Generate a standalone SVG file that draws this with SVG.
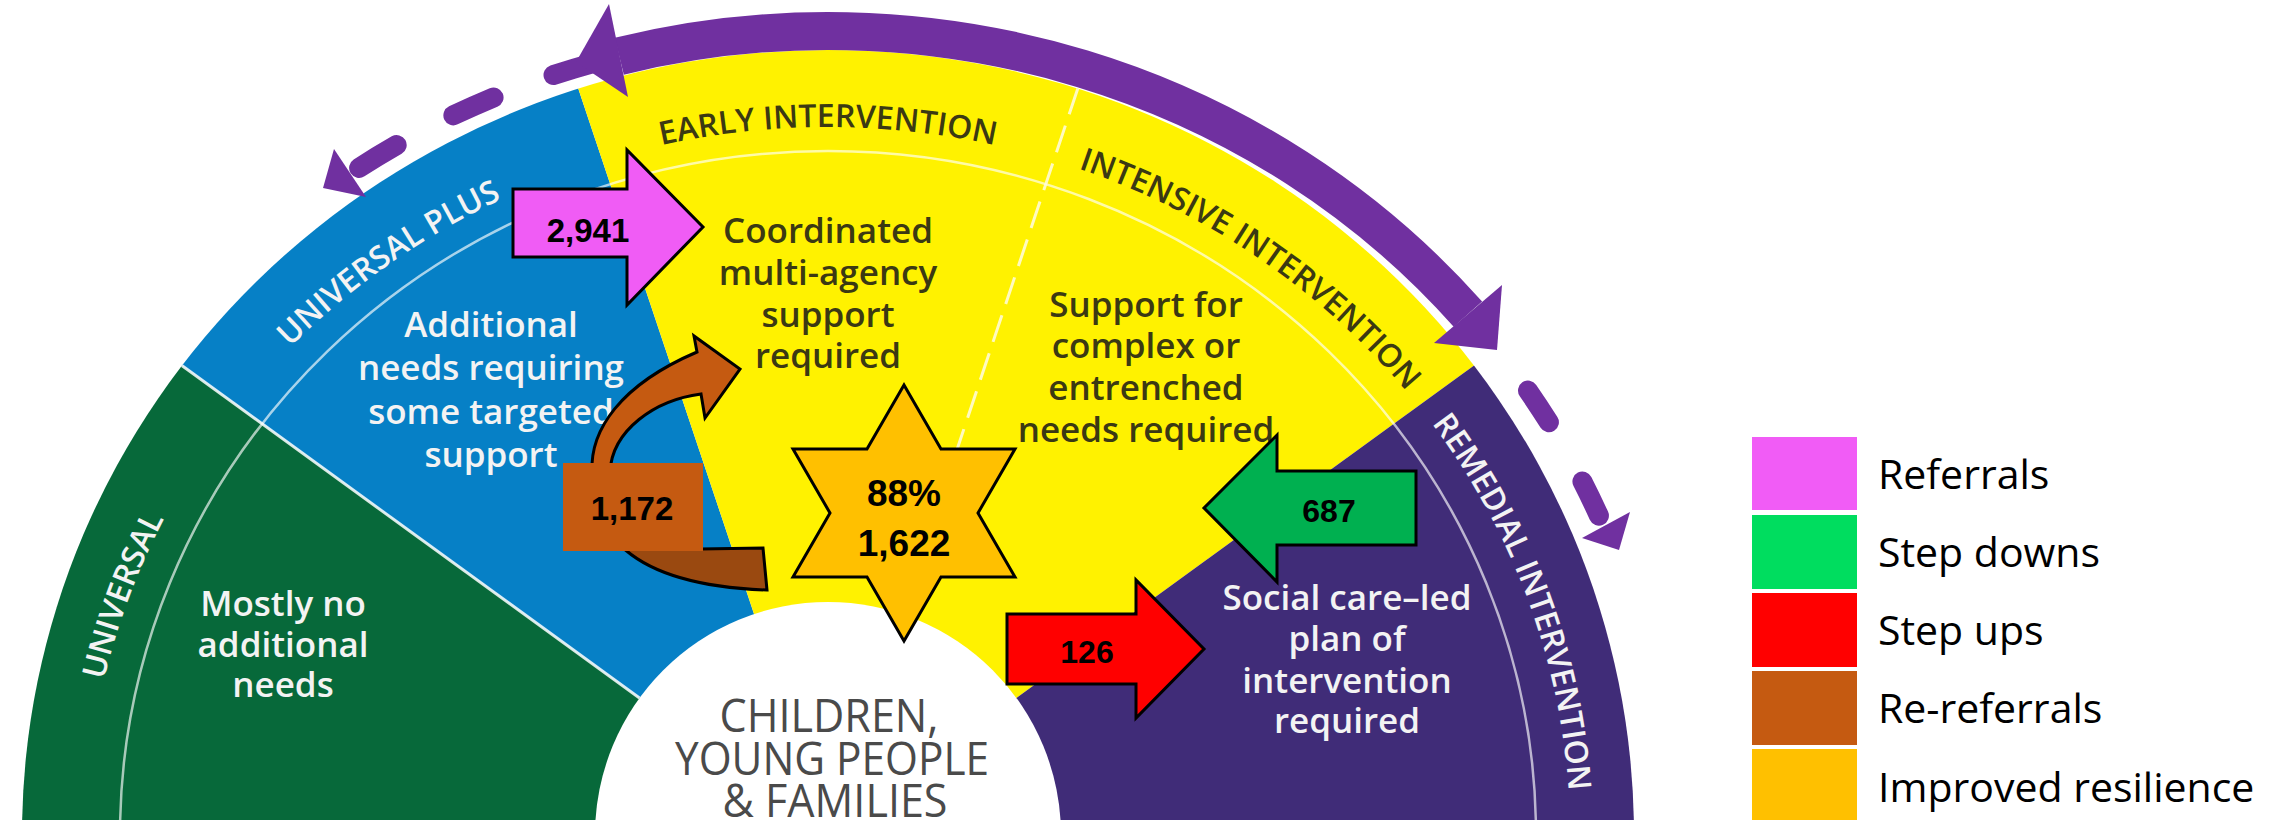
<svg xmlns="http://www.w3.org/2000/svg" width="2295" height="820" viewBox="0 0 2295 820">
<style>
.band{font-family:"Open Sans","Liberation Sans",sans-serif;font-weight:600;font-size:32px;text-anchor:middle}
.light{fill:#f3f3f3}
.dark{fill:#3b3913}
.body{font-family:"Open Sans","Liberation Sans",sans-serif;font-weight:600;font-size:35px;text-anchor:middle}
.centre{font-family:"Open Sans","Liberation Sans",sans-serif;font-size:46px;fill:#4a4a4a;text-anchor:middle}
.num{font-family:"Liberation Sans",Arial,sans-serif;font-weight:700;text-anchor:middle;fill:#000}
.edge{stroke:#000;stroke-width:3;stroke-linejoin:miter}
.legend{font-family:"Open Sans","Liberation Sans",sans-serif;font-size:41px;fill:#000}
.arc{fill:none;stroke:#7030a0}
.dash{fill:none;stroke:#7030a0;stroke-width:20;stroke-linecap:round}
.head{fill:#7030a0}
</style>
<defs>
  <clipPath id="disc"><ellipse cx="828" cy="835" rx="806" ry="785"/></clipPath>
  <!-- baselines for the curved band titles -->
  <path id="lbl-universal" d="M 88.9 772.9 A 742 708 0 0 1 213.1 438.7"/>
  <path id="lbl-plus" d="M 226.7 420.2 A 742 708 0 0 1 591.7 163.9"/>
  <path id="lbl-early" d="M 584.6 166.2 A 742 708 0 0 1 1071.4 166.2"/>
  <path id="lbl-intensive" d="M 1041.8 157 A 742 708 0 0 1 1430.1 421.2"/>
  <path id="lbl-remedial" d="M 1419.5 407.5 A 742 708 0 0 1 1569.6 811"/>
</defs>

<!-- half-disc of need levels -->
<g id="segments" clip-path="url(#disc)">
  <polygon id="seg-universal" points="828,835 -172,835 19,247" fill="#07693a"/>
  <polygon id="seg-universal-plus" points="828,835 19,247 510.7,-113.3" fill="#0680c6"/>
  <polygon id="seg-intervention" points="828,835 510.7,-113.3 1145.3,-113.3 1637,247" fill="#fff200"/>
  <polygon id="seg-remedial" points="828,835 1637,247 1828,835" fill="#402c78"/>
  <ellipse cx="828" cy="835" rx="708" ry="684" fill="none" stroke="#fff" stroke-opacity="0.65" stroke-width="2.5"/>
  <line x1="639.5" y1="698" x2="164.6" y2="353" stroke="#fff" stroke-opacity="0.85" stroke-width="3"/>
  <line x1="904.2" y1="607.4" x2="1088.2" y2="57.4" stroke="#fffbe0" stroke-opacity="0.85" stroke-width="3" stroke-dasharray="28 12"/>
</g>
<circle id="hub" cx="828" cy="835" r="233" fill="#fff"/>

<!-- band titles -->
<g id="titles">
  <text class="band light"><textPath href="#lbl-universal" startOffset="50%">UNIVERSAL</textPath></text>
  <text class="band light"><textPath href="#lbl-plus" startOffset="50%">UNIVERSAL PLUS</textPath></text>
  <text class="band dark"><textPath href="#lbl-early" startOffset="50%">EARLY INTERVENTION</textPath></text>
  <text class="band dark"><textPath href="#lbl-intensive" startOffset="50%">INTENSIVE INTERVENTION</textPath></text>
  <text class="band light"><textPath href="#lbl-remedial" startOffset="50%">REMEDIAL INTERVENTION</textPath></text>
</g>

<!-- descriptions -->
<g id="node-universal">
  <text class="body light"><tspan x="283" y="616">Mostly no</tspan><tspan x="283" y="657">additional</tspan><tspan x="283" y="697">needs</tspan></text>
</g>
<g id="node-universal-plus">
  <text class="body light"><tspan x="491" y="337">Additional</tspan><tspan x="491" y="380">needs requiring</tspan><tspan x="491" y="424">some targeted</tspan><tspan x="491" y="467">support</tspan></text>
</g>
<g id="node-early">
  <text class="body dark"><tspan x="828" y="243">Coordinated</tspan><tspan x="828" y="285">multi-agency</tspan><tspan x="828" y="327">support</tspan><tspan x="828" y="368">required</tspan></text>
</g>
<g id="node-intensive">
  <text class="body dark"><tspan x="1146" y="317">Support for</tspan><tspan x="1146" y="358">complex or</tspan><tspan x="1146" y="400">entrenched</tspan><tspan x="1146" y="442">needs required</tspan></text>
</g>
<g id="node-remedial">
  <text class="body light"><tspan x="1347" y="610">Social care–led</tspan><tspan x="1347" y="651">plan of</tspan><tspan x="1347" y="693">intervention</tspan><tspan x="1347" y="733">required</tspan></text>
</g>
<g id="node-centre">
  <text class="centre" x="829" y="732" textLength="219" lengthAdjust="spacingAndGlyphs">CHILDREN,</text>
  <text class="centre" x="832" y="775" textLength="314" lengthAdjust="spacingAndGlyphs">YOUNG PEOPLE</text>
  <text class="centre" x="835" y="817" textLength="225" lengthAdjust="spacingAndGlyphs">&amp; FAMILIES</text>
</g>

<!-- movement between levels -->
<g id="connectors">
  <path class="dash" d="M 359.1 167.9 A 840 804 0 0 1 605.7 59.6" stroke-dasharray="44 64"/>
  <polygon class="head" points="334,149 366,197 323,188"/>
  <path class="dash" d="M 1598.9 515.7 A 840 804 0 0 0 1518.9 377.7" stroke-dasharray="38 68"/>
  <polygon class="head" points="1630,512 1582,538 1619,550"/>
  <path class="arc" stroke-width="38" d="M 619.3 56.2 A 840 804 0 0 1 1467.9 314.2"/>
  <polygon class="head" points="609,4 628,97 576,62"/>
  <polygon class="head" points="1502,285 1434,343 1497,350"/>
</g>

<!-- flow counts -->
<g id="node-rereferrals">
  <path class="edge" fill="#9a4910" d="M 592 465 C 590 530, 625 585, 767 590 L 763 548 L 700 549 C 650 548, 612 520, 610 465 Z"/>
  <path class="edge" fill="#c55a11" d="M 592 472 C 590 430, 620 385, 697 352 L 694 336 L 740 369 L 705 418 L 701 394 C 655 400, 612 430, 610 472 Z"/>
  <rect x="563" y="463" width="140" height="88" fill="#c55a11"/>
  <text class="num" x="632" y="520" font-size="33">1,172</text>
</g>
<g id="node-resilience">
  <polygon class="edge" fill="#ffc000" points="904,385 941,449 1015,449 978,513 1015,577 941,577 904,641 867,577 793,577 830,513 793,449 867,449"/>
  <text class="num" x="904" y="506" font-size="37">88%</text>
  <text class="num" x="904" y="556" font-size="37">1,622</text>
</g>
<g id="node-referrals">
  <polygon class="edge" fill="#f05cf5" points="513,189 627,189 627,150 703,227 627,305 627,257 513,257"/>
  <text class="num" x="588" y="242" font-size="33">2,941</text>
</g>
<g id="node-stepdowns">
  <polygon class="edge" fill="#00b050" points="1416,471 1277,471 1277,435 1204,508 1277,582 1277,545 1416,545"/>
  <text class="num" x="1329" y="522" font-size="32">687</text>
</g>
<g id="node-stepups">
  <polygon class="edge" fill="#ff0000" points="1007,614 1136,614 1136,580 1204,649 1136,718 1136,684 1007,684"/>
  <text class="num" x="1087" y="663" font-size="32">126</text>
</g>

<!-- key -->
<g id="legend">
  <rect x="1752" y="437" width="105" height="73" fill="#f15cf6"/>
  <rect x="1752" y="515" width="105" height="74" fill="#00dd5f"/>
  <rect x="1752" y="593" width="105" height="74" fill="#ff0000"/>
  <rect x="1752" y="671" width="105" height="74" fill="#c55a11"/>
  <rect x="1752" y="749" width="105" height="71" fill="#ffc000"/>
  <text class="legend" x="1878" y="489">Referrals</text>
  <text class="legend" x="1878" y="567">Step downs</text>
  <text class="legend" x="1878" y="645">Step ups</text>
  <text class="legend" x="1878" y="723">Re-referrals</text>
  <text class="legend" x="1878" y="802">Improved resilience</text>
</g>
</svg>
